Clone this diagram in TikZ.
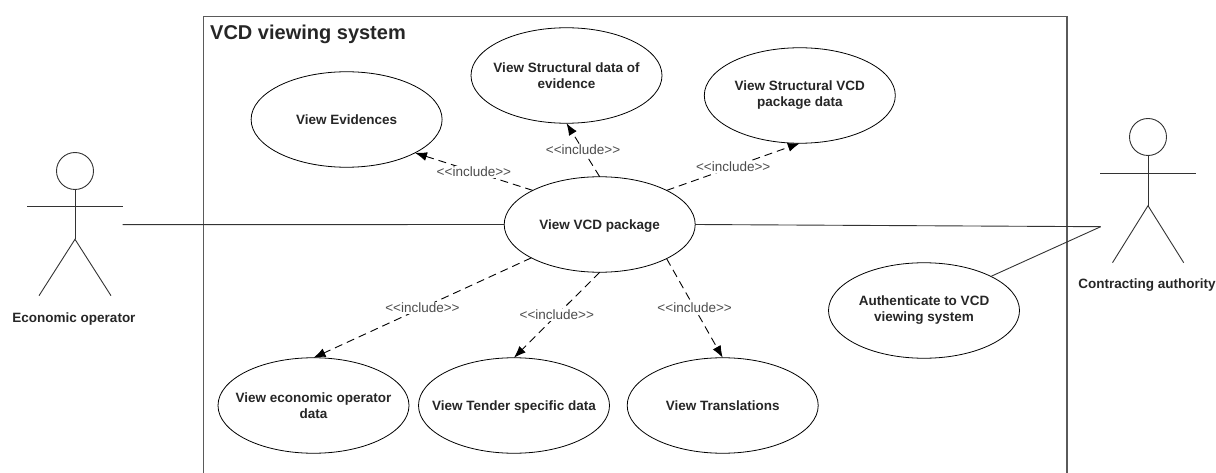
\documentclass[tikz,border=0pt]{standalone}
\usepackage{fontspec}
\setmainfont{Liberation Sans}
\usetikzlibrary{shapes.geometric,arrows.meta}
\definecolor{FrameGray}{HTML}{5A5A5A}
\definecolor{LineGray}{HTML}{333333}
\newcommand{\includetag}{<{}<include>{}>}
\tikzset{
  usecase/.style={draw=black,line width=0.8pt,ellipse,minimum width=191pt,minimum height=95.5pt,inner xsep=-30pt,inner ysep=-8pt,outer sep=0pt,
    align=center,font=\fontsize{13.5}{16}\selectfont\bfseries,text=black!85},
  oneline/.style={text height=9.7pt,text depth=0pt},
  actorname/.style={font=\fontsize{13.5}{16}\selectfont\bfseries,text=black!85,inner sep=0pt},
  actorline/.style={draw=LineGray,line width=0.9pt},
  includes/.style={draw=black,line width=0.9pt,dash pattern=on 8pt off 5pt,-{Latex[length=12pt,width=9pt]}},
  includelabel/.style={fill=white,inner sep=1pt,text=black!70,font=\fontsize{13.5}{16}\selectfont}
}
\begin{document}
\begin{tikzpicture}[x=1pt,y=-1pt]
\useasboundingbox (0,0) rectangle (1216,473);
% system frame
\draw[draw=FrameGray,line width=1.3pt]
  (203.4,473) --
  (203.4,16.7) --
  (1067,16.7) --
  (1067,473);
\node[anchor=west,inner sep=0pt,font=\fontsize{20}{24}\selectfont\bfseries,text=black!85] (SystemTitle) at (210,34.5) {VCD viewing system};
% use cases
\node[usecase,oneline] (Package) at (599.7,224.5) {View VCD package};
\node[usecase,oneline] (Evidences) at (346.6,119.5) {View Evidences};
\node[usecase] (EvidenceData) at (566.5,75.5) {View Structural data of\\evidence};
\node[usecase] (PackageData) at (799.8,95.5) {View Structural VCD\\package data};
\node[usecase] (OperatorData) at (313.5,405.5) {View economic operator\\data};
\node[usecase,oneline] (TenderData) at (514,405.5) {View Tender specific data};
\node[usecase,oneline] (Translations) at (722.7,405.5) {View Translations};
\node[usecase] (Authenticate) at (924,310.5) {Authenticate to VCD\\viewing system};
% economic operator
\node[actorline,draw,circle,minimum size=37pt,inner sep=0pt] (OperatorHead) at (75,171) {};
\coordinate (OperatorHip) at (75,239.3);
\coordinate (OperatorHand) at (122.7,206.3);
\coordinate (OperatorLink) at (122.7,224.7);
\draw[actorline] (OperatorHead) -- (OperatorHip);
\draw[actorline] (27,206.3) -- (OperatorHand);
\draw[actorline] (39,295.7) -- (OperatorHip) -- (111,295.7);
\node[actorname] (OperatorName) at (74,318.7) {Economic operator};
% contracting authority
\node[actorline,draw,circle,minimum size=37pt,inner sep=0pt] (AuthorityHead) at (1148,137) {};
\coordinate (AuthorityHip) at (1148,205.7);
\coordinate (AuthorityHand) at (1100,173.3);
\coordinate (AuthorityLink) at (1100.7,226.7);
\draw[actorline] (AuthorityHead) -- (AuthorityHip);
\draw[actorline] (AuthorityHand) -- (1196,173.3);
\draw[actorline] (1112.5,262.7) -- (AuthorityHip) -- (1183.7,262.7);
\node[actorname] (AuthorityName) at (1147,285) {Contracting authority};
% associations
\draw[actorline] (OperatorLink) -- (Package.west);
\draw[actorline] (Package.east) -- (AuthorityLink);
\draw[actorline] (Authenticate.27) -- (AuthorityLink);
% includes
\draw[includes] (Package.153) -- node[includelabel] (LabelA) {\includetag} (Evidences.-26);
\draw[includes] (Package.90) -- node[includelabel] (LabelB) {\includetag} (EvidenceData.270);
\draw[includes] (Package.27) -- node[includelabel] (LabelC) {\includetag} (PackageData.270);
\draw[includes] (Package.206) -- node[includelabel] (LabelD) {\includetag} (OperatorData.90);
\draw[includes] (Package.270) -- node[includelabel] (LabelE) {\includetag} (TenderData.90);
\draw[includes] (Package.-27) -- node[includelabel] (LabelF) {\includetag} (Translations.90);
\end{tikzpicture}
\end{document}
